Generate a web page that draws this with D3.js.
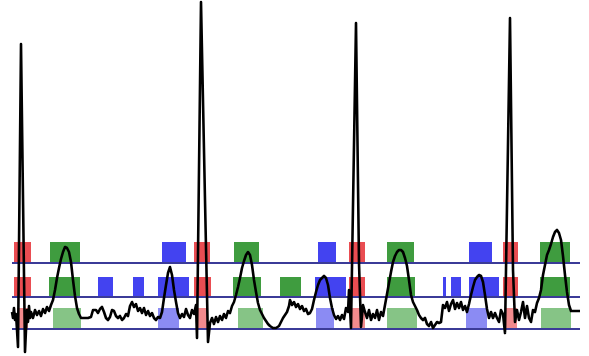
<!DOCTYPE html>
<html><head><meta charset="utf-8">
<script src="https://cdn.jsdelivr.net/npm/d3@7"></script>
<style>html,body{margin:0;padding:0;background:#fff;overflow:hidden}</style>
</head><body><svg id="c" width="589" height="356"></svg>
<script>
// ECG trace: [time (samples), amplitude]
const ecg = [[0,18],[1,12],[2,22],[3,10],[4,16],[5,0],[6,-17],[9,286],[13,-22],[14,0],[15,20],[16,8],[17,24],[18,12],[19,18],[21,12],[23,20],[25,15],[27,19],[29,14],[31,21],[33,17],[35,23],[37,19],[39,25],[41,30],[43,40],[45,52],[47,62],[49,71],[51,78],[53,83],[55,82],[57,78],[59,68],[61,50],[63,34],[65,22],[67,16],[69,12],[72,12],[76,12],[79,13],[81,20],[84,20],[86,17],[88,21],[90,23],[92,18],[94,12],[96,10],[98,13],[100,20],[102,19],[104,14],[106,12],[108,14],[110,10],[112,12],[114,16],[116,14],[118,24],[120,28],[122,23],[124,26],[126,19],[128,22],[130,17],[132,22],[134,15],[136,19],[138,14],[140,17],[142,12],[144,10],[146,13],[148,12],[150,18],[152,32],[154,45],[156,57],[158,63],[160,55],[162,40],[164,28],[166,17],[168,12],[170,16],[172,13],[174,21],[176,15],[178,12],[180,20],[182,16],[184,25],[185,-8],[189,328],[193,130],[196,-12],[198,7],[200,12],[202,6],[204,13],[206,8],[208,14],[210,10],[212,16],[214,12],[216,19],[218,17],[220,24],[222,28],[224,35],[226,43],[228,52],[230,62],[232,69],[234,75],[236,78],[238,75],[240,65],[242,50],[244,38],[246,27],[248,20],[250,16],[252,12],[254,9],[256,6],[258,4],[261,2],[264,2],[267,4],[269,8],[271,12],[273,15],[275,18],[277,24],[278,30],[280,25],[282,28],[284,23],[286,26],[288,21],[290,24],[292,19],[294,21],[296,16],[298,17],[300,21],[302,30],[304,38],[306,45],[308,50],[310,52],[312,54],[314,52],[316,45],[318,32],[320,22],[322,15],[324,11],[326,14],[328,10],[330,15],[332,11],[334,22],[336,18],[337,40],[339,2],[344,307],[347,67],[349,3],[351,25],[353,18],[355,12],[357,20],[359,10],[361,16],[363,12],[365,20],[367,10],[369,18],[371,14],[373,25],[375,36],[377,47],[379,58],[381,68],[383,74],[385,78],[387,80],[389,80],[391,78],[393,72],[395,64],[397,50],[399,35],[401,28],[403,24],[405,20],[407,15],[409,12],[411,10],[413,12],[415,6],[417,4],[419,8],[421,2],[423,5],[425,8],[427,7],[429,8],[431,25],[433,22],[435,28],[437,19],[439,26],[441,30],[443,21],[445,27],[447,22],[449,28],[451,20],[453,24],[455,18],[457,26],[459,35],[461,43],[463,50],[465,53],[467,55],[469,54],[471,48],[473,35],[475,21],[477,12],[479,18],[481,12],[483,17],[485,12],[487,8],[489,20],[491,16],[493,-3],[498,312],[501,60],[503,8],[505,20],[507,10],[509,18],[511,28],[513,12],[515,24],[517,12],[519,8],[521,20],[523,18],[525,27],[527,32],[529,40],[531,55],[533,65],[535,75],[537,80],[539,86],[541,93],[543,98],[545,100],[547,97],[549,90],[551,74],[553,55],[555,38],[557,25],[559,19],[563,19],[568,19]];

// Annotation segments per row: [start, end, class]  R = red, G = green, B = blue
const row1 = [[2,19,"R"],[38,68,"G"],[150,174,"B"],[182,198,"R"],[222,247,"G"],[306,324,"B"],[337,353,"R"],[375,402,"G"],[457,480,"B"],[491,506,"R"],[528,558,"G"]];
const row2 = [[2,19,"R"],[37,68,"G"],[86,101,"B"],[121,132,"B"],[146,177,"B"],[182,199,"R"],[221,249,"G"],[268,289,"G"],[303,334,"B"],[337,353,"R"],[375,403,"G"],[431,434,"B"],[439,449,"B"],[457,487,"B"],[491,506,"R"],[528,558,"G"]];
const row3 = [[5,16,"R"],[41,69,"G"],[146,167,"B"],[184,196,"R"],[226,251,"G"],[304,322,"B"],[338,353,"R"],[375,405,"G"],[454,475,"B"],[493,505,"R"],[529,559,"G"]];
const timeDomain = [0, 568];

const svg = d3.select("#c");
const x = d3.scaleLinear().domain(timeDomain).range([12, 580]);
const y = d3.scaleLinear().domain([-30, 330]).range([360, 0]);

const rows = [
  {data: row1, top: 242, base: 263, colors: {R:"#ea4d52", G:"#3f9c3f", B:"#4343f0"}},
  {data: row2, top: 277, base: 297, colors: {R:"#ea4d52", G:"#3f9c3f", B:"#4343f0"}},
  {data: row3, top: 308, base: 329, colors: {R:"#f28a8d", G:"#86c486", B:"#8b8bf3"}}
];

rows.forEach(r => {
  svg.append("g").selectAll("rect").data(r.data).join("rect")
    .attr("x", d => x(d[0]))
    .attr("width", d => x(d[1]) - x(d[0]))
    .attr("y", r.top)
    .attr("height", r.base - r.top)
    .attr("fill", d => r.colors[d[2]]);
});

rows.forEach(r => {
  svg.append("line")
    .attr("x1", x(timeDomain[0])).attr("x2", x(timeDomain[1]))
    .attr("y1", r.base).attr("y2", r.base)
    .attr("stroke", "#3b3b98").attr("stroke-width", 1.8);
});

const line = d3.line().x(d => x(d[0])).y(d => y(d[1]));
svg.append("path").datum(ecg)
  .attr("d", line)
  .attr("fill", "none")
  .attr("stroke", "#000")
  .attr("stroke-width", 2.6)
  .attr("stroke-linejoin", "round");
</script>
</body></html>
